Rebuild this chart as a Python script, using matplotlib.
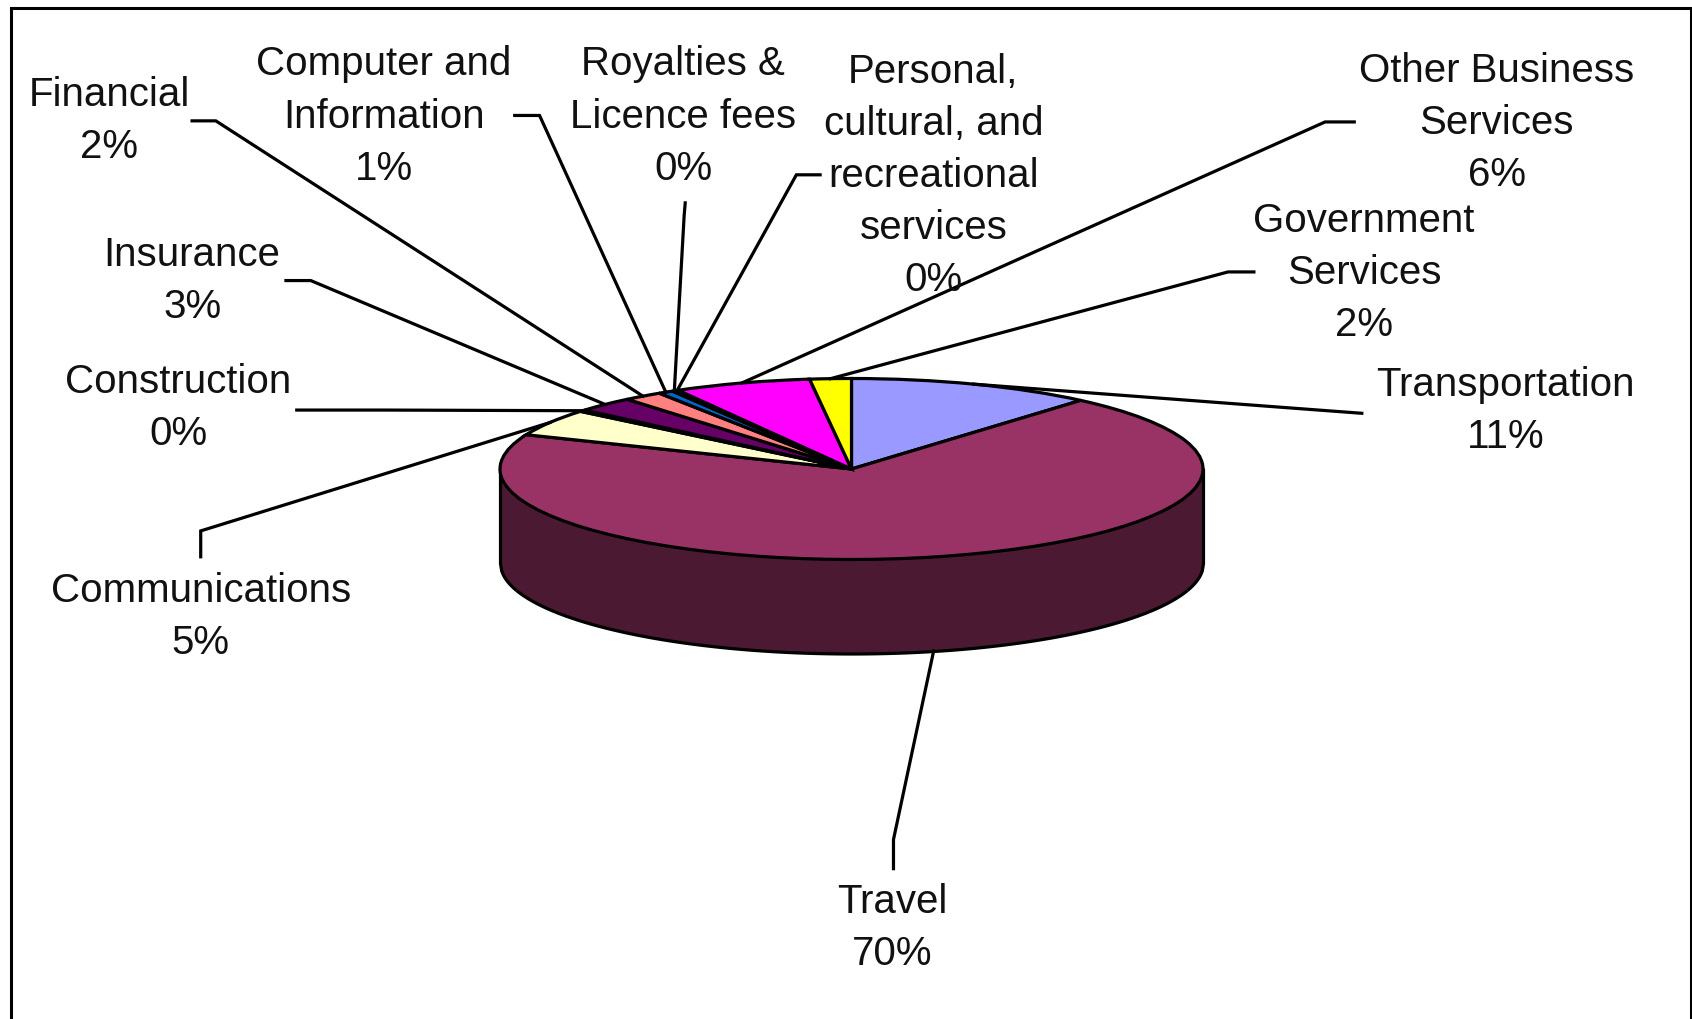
import numpy as np
import matplotlib
matplotlib.use("Agg")
import matplotlib.pyplot as plt

plt.rcParams['font.family'] = ['Liberation Sans', 'DejaVu Sans']

categories = ["Transportation", "Travel", "Communications", "Construction", "Insurance",
              "Financial", "Computer and\nInformation", "Royalties &\nLicence fees",
              "Personal,\ncultural, and\nrecreational\nservices", "Other Business\nServices",
              "Government\nServices"]
values = [11.3, 69.8, 4.8, 0.3, 2.7, 1.8, 0.7, 0.2, 0.1, 6.3, 1.9]
percent_labels = ["11%", "70%", "5%", "0%", "3%", "2%", "1%", "0%", "0%", "6%", "2%"]
colors = ["#9999FF", "#993366", "#FFFFCC", "#CCFFFF", "#660066", "#FF8080",
          "#0066CC", "#CCCCFF", "#000080", "#FF00FF", "#FFFF00"]
side_color = "#4C1933"

W, H = 1692, 1019
S = 1692 / 1568
cx, cy, rx, ry, depth = 851.5, 469.0, 351.5, 90.5, 94.0
LW = 2.3

# label centres and leader elbows, in the 1568-wide view of the picture
label_xy = [(1395, 381), (827, 860), (186, 572), (165, 378), (178, 260), (101, 112),
            (356, 108), (633, 108), (865, 163), (1387, 114), (1264, 253)]
leader_start = [(1262, 383), (828, 805), (186, 516), (275, 380), (265, 260), (178, 112),
                (477, 107), (635, 188), (760, 162), (1255, 113), (1162, 252)]
leader_elbow = [(1195, 378), (828, 778), (186, 492), (355, 380), (288, 260), (200, 112),
                (500, 107), (634, 200), (738, 162), (1228, 113), (1138, 252)]

fig = plt.figure(figsize=(W / 100, H / 100), dpi=100, facecolor="white")

ax = fig.add_axes([0, 0, 1, 1])
ax.pie(values, colors=colors, startangle=90, counterclock=False, radius=1,
       wedgeprops=dict(edgecolor="black", linewidth=LW), normalize=True)
xs = np.linspace(-1, 1, 600)
d = depth / ry
ax.fill_between(xs, -np.sqrt(1 - xs**2) - d, np.zeros_like(xs), color=side_color,
                edgecolor="black", linewidth=LW, zorder=0)
ax.set_aspect("auto")
ax.set_xlim(-cx / rx, (W - cx) / rx)
ax.set_ylim((cy - H) / ry, cy / ry)
ax.axis("off")

over = fig.add_axes([0, 0, 1, 1], facecolor="none")
over.set_xlim(0, W)
over.set_ylim(H, 0)
over.axis("off")

cum = np.cumsum(values)
total = cum[-1]
mids = (cum - np.array(values) / 2) / total * 2 * np.pi
for i, name in enumerate(categories):
    ex = cx + rx * np.sin(mids[i])
    ey = cy - ry * np.cos(mids[i])
    if name == "Travel":
        ey += depth
    sx, sy = leader_start[i]
    bx, by = leader_elbow[i]
    over.plot([sx * S, bx * S, ex], [sy * S, by * S, ey], color="black", lw=LW,
              solid_joinstyle="miter", zorder=3)
    lx, ly = label_xy[i]
    over.text(lx * S, ly * S, f"{name}\n{percent_labels[i]}", ha="center", va="center",
              fontsize=29, linespacing=1.47, color="#111111", zorder=4)

# chart frame: open at the bottom edge
over.plot([10.5, 10.5, 1690.5, 1690.5], [H, 7.5, 7.5, H], color="black", lw=2.2,
          solid_joinstyle="miter", clip_on=False, zorder=5)

fig.savefig("out.png", dpi=100, facecolor="white")
